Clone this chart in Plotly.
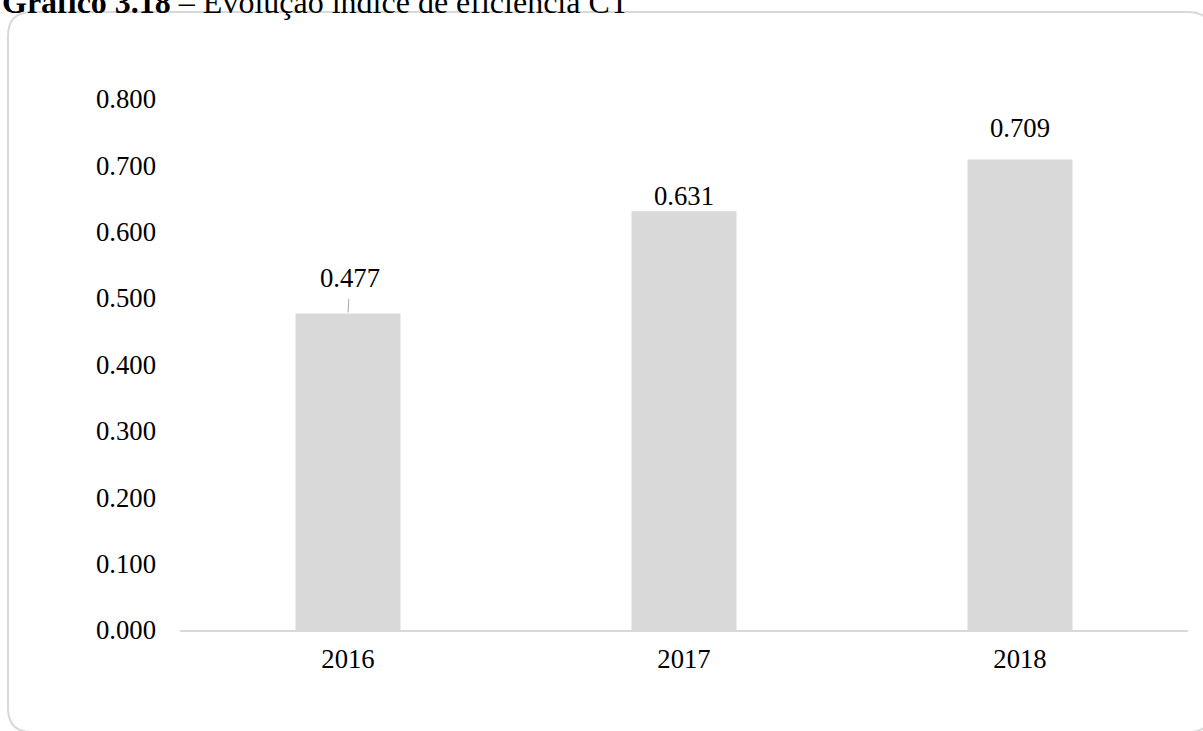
import plotly.graph_objects as go

categories = ["2016", "2017", "2018"]
values = [0.477, 0.631, 0.709]
labels = ["0.477", "0.631", "0.709"]
tick_vals = [0, 0.1, 0.2, 0.3, 0.4, 0.5, 0.6, 0.7, 0.8]
tick_text = ["0.000", "0.100", "0.200", "0.300", "0.400", "0.500", "0.600", "0.700", "0.800"]
title_bold = "Gráfico 3.18"
title_rest = " – Evolução índice de eficiência CT"

W, H = 1203, 731
L, R, T, B = 180, 15, 99, 101
pw, ph = W - L - R, H - T - B

def px(x):
    return (x - L) / pw

def py(y):
    return (H - B - y) / ph

FONT = "Liberation Serif, Times New Roman, serif"
FS = 26.7

fig = go.Figure()
fig.add_trace(go.Bar(
    x=categories, y=values, width=0.3125,
    marker=dict(color="#d9d9d9", line=dict(width=0)),
    hoverinfo="x+y",
))

# data labels (x given as category index so "2016" is not read as index 2016)
shifts = [None, -2, 14]
for i, (v, t) in enumerate(zip(values, labels)):
    if shifts[i] is None:
        fig.add_annotation(x=i, y=v, xref="x", yref="y", text=t, showarrow=True,
                           arrowhead=0, arrowwidth=1, arrowcolor="#a6a6a6",
                           ax=2, ay=-35, standoff=1, startstandoff=4,
                           font=dict(family=FONT, size=FS, color="#000"))
    else:
        fig.add_annotation(x=i, y=v, xref="x", yref="y", text=t, showarrow=False,
                           yanchor="bottom", yshift=shifts[i],
                           font=dict(family=FONT, size=FS, color="#000"))

# title (partly cut at the top edge, as in the source image)
fig.add_annotation(x=px(0), y=py(22), xref="paper", yref="paper",
                   xanchor="left", yanchor="bottom", showarrow=False,
                   text="<b>" + title_bold + "</b>" + title_rest,
                   font=dict(family=FONT, size=32, color="#000"))

# rounded border
x0, x1 = px(8), px(1212)
y0, y1 = py(732), py(12)
rx, ry = 24 / pw, 24 / ph
path = (f"M {x0+rx},{y1} L {x1-rx},{y1} Q {x1},{y1} {x1},{y1-ry} "
        f"L {x1},{y0+ry} Q {x1},{y0} {x1-rx},{y0} L {x0+rx},{y0} "
        f"Q {x0},{y0} {x0},{y0+ry} L {x0},{y1-ry} Q {x0},{y1} {x0+rx},{y1} Z")
fig.add_shape(type="path", path=path, xref="paper", yref="paper",
              line=dict(color="#d9d9d9", width=2), layer="below")

fig.update_layout(
    width=W, height=H,
    margin=dict(l=L, r=R, t=T, b=B),
    plot_bgcolor="white", paper_bgcolor="white",
    showlegend=False,
    font=dict(family=FONT, size=FS, color="#000"),
)
fig.update_xaxes(type="category", range=[-0.5, len(categories) - 0.5], showgrid=False,
                 showline=True, linecolor="#d9d9d9",
                 linewidth=2, ticks="", tickfont=dict(family=FONT, size=FS, color="#000"),
                 ticklabelstandoff=4)
fig.update_yaxes(range=[0, 0.8], tickvals=tick_vals, ticktext=tick_text, showgrid=False,
                 zeroline=False, showline=False, ticks="",
                 tickfont=dict(family=FONT, size=FS, color="#000"), ticklabelstandoff=23)

fig.write_html("out.html", config={"displayModeBar": False},
               post_script="document.body.style.margin='0';document.body.style.overflow='hidden';")
